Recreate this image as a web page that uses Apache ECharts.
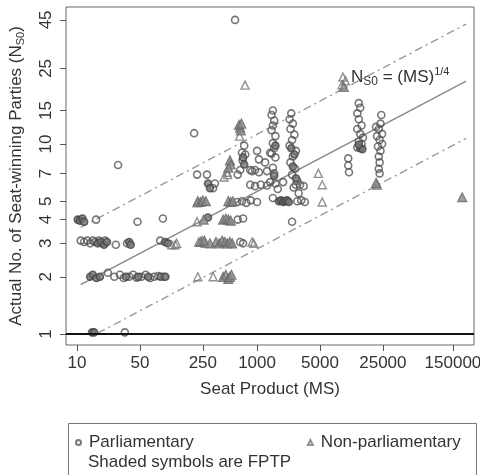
<!DOCTYPE html>
<html>
<head>
<meta charset="utf-8">
<script src="https://cdn.jsdelivr.net/npm/echarts@6/dist/echarts.min.js"></script>
<style>
  html, body { margin: 0; padding: 0; background: #fff; }
  #chart { width: 480px; height: 475px; }
</style>
</head>
<body>
<div id="chart"></div>
<script>
// tick positions (log axes)
const ticksX = [10, 50, 250, 1000, 5000, 25000, 150000];
const ticksY = [1, 2, 3, 4, 5, 7, 10, 15, 25, 45];

// [seat product, effective no. of seat-winning parties]
const parlOpen = [
  [16.3,4.0],[47,3.9],[90,4.05],
  [11,3.1],[12,3.05],[13,3.1],[14,3.0],[15,3.1],[16,3.05],[17.5,3.1],[19,3.0],[20.5,3.1],[27,2.95],[36,3.0],[84,3.1],
  [22,2.1],[26,2.0],[30,2.05],[33,1.97],[38,2.0],[42,2.05],[46,1.98],[52,2.0],[58,2.05],[65,1.97],[72,2.0],[80,2.02],[92,2.0],
  [34,1.02],
  [28.6,7.75],[200,11.4],[570,45],
  [216,6.9],[278,6.9],[340,6.2],[325,5.85],[610,6.9],[880,7.2],[1050,7.1],[1290,7.2],
  [840,6.1],[950,6.0],[1100,6.1],[1290,6.05],[1400,6.3],[1600,6.2],[1950,6.3],
  [600,4.95],[680,5.0],[760,4.9],[850,5.05],[1000,4.95],
  [610,4.0],[700,4.05],[650,3.05],[700,3.0],
  [680,9.0],[690,8.2],[650,7.3],[840,7.3],[950,7.3],[1230,8.0],[1400,9.0],[1000,9.2],[1050,8.3],[720,9.8],[740,8.8],
  [1500,15.0],[1450,14.2],[1550,13.3],[1500,12.5],[1450,11.8],[1600,11.0],[1500,10.1],[1550,9.5],[1450,8.9],[1600,8.5],[1500,7.5],[1550,7.0],[1700,5.8],[1500,5.2],
  [2400,14.5],[2300,13.5],[2500,12.8],[2350,12.0],[2600,11.2],[2450,10.5],[2300,9.8],[2700,9.2],[2500,8.6],[2350,8.0],[2650,7.4],[2450,6.9],[2800,6.4],[2550,5.9],[2900,5.5],
  [2700,6.1],[3000,6.1],[3300,6.0],[2800,5.0],[3100,5.05],[3400,4.95],[2450,3.9],
  [13500,16.4],[14000,15.5],[13000,14.5],[13500,13.5],[14500,12.5],[13000,12.0],[14000,11.3],[15000,10.8],[13500,10.3],[14500,10.0],[13000,9.6],
  [24000,14.2],[21000,12.3],[23500,12.8],[22500,12.0],[24500,11.3],[21500,11.0],[23000,10.5],[24500,10.0],[22000,9.7],[23500,9.2],[22500,8.6],[23000,8.0],[22500,7.4],[23000,7.0],
  [10300,8.4],[10300,7.7],[10500,7.1]
];
const parlShaded = [
  [10.2,4.0],[10.8,3.95],[11.5,4.05],[12,3.9],
  [17,3.0],[18.5,3.05],[20,2.95],[21.5,3.05],[38,3.05],[39.5,2.95],[95,3.05],[102,3.0],
  [14,2.0],[15,2.05],[16.5,1.97],[18,2.0],[35,2.0],[48,2.0],[62,2.0],[85,2.0],[96,2.0],
  [14.7,1.02],[15.5,1.02],
  [285,4.1],[285,6.2],[300,5.85],
  [1750,5.0],[1850,5.05],[1950,4.95],[2050,5.0],[2150,5.05],[2250,4.95],
  [2400,9.5],[2600,8.8],[2500,7.6],[2700,6.6],[1550,6.8],[1600,9.8],
  [14000,9.5],[14800,9.4],[13500,9.9],
  [700,8.5],[720,7.8]
];
const nonParlOpen = [
  [113,2.95],[123,2.95],[128,3.0],
  [216,4.9],[216,3.9],[225,3.05],[245,3.1],[265,3.0],[220,2.0],[325,2.0],
  [736,20.4],[640,11.0],[465,7.1],[430,6.7],[470,6.9],
  [880,3.05],[920,3.0],
  [4800,7.0],[5300,6.1],[5300,4.95],
  [9000,22.5],[9600,21.5],[8800,20.5]
];
const nonParlShaded = [
  [648,12.2],[660,11.8],[630,12.6],[670,12.8],
  [500,8.2],[510,7.8],[480,7.5],
  [220,5.0],[235,4.95],[250,5.05],[270,5.0],[480,5.0],[510,4.95],[540,5.0],
  [255,4.0],[420,4.0],[450,4.05],[480,4.0],[510,3.95],
  [235,3.05],[260,3.1],[300,3.0],[350,3.05],[380,3.0],[410,3.1],[440,3.05],[470,3.0],[500,3.05],[530,3.0],
  [420,2.0],[450,2.05],[480,1.95],[500,2.0],[520,2.05],
  [21500,6.1],[21000,6.25],
  [9200,20.0],
  [190000,5.25]
];

// N = MS^(1/4), and the same times 2 and times 1/2 (endpoints)
const fitLine = [[11, 1.82], [210000, 21.4]];
const upperLine = [[11, 3.64], [210000, 42.8]];
const lowerLine = [[17, 1.01], [210000, 10.7]];

const FONT = '"Liberation Sans", Arial, sans-serif';
const textCol = '#333';

const chart = echarts.init(document.getElementById('chart'));

const dashDot = [8, 4, 2, 4];

chart.setOption({
  animation: false,
  textStyle: { fontFamily: FONT },
  grid: { left: 66, right: 6, top: 7, bottom: 130, show: true, borderColor: '#666', borderWidth: 1, outerBoundsMode: 'none' },
  xAxis: {
    type: 'log', logBase: 10, min: 7.55, max: 257000,
    name: 'Seat Product (MS)', nameLocation: 'middle', nameGap: 36,
    nameTextStyle: { fontSize: 17, color: textCol, fontFamily: FONT },
    axisLine: { show: false },
    axisTick: { show: true, length: 6, lineStyle: { color: '#555' }, customValues: ticksX },
    axisLabel: { fontSize: 17, color: textCol, margin: 10, customValues: ticksX, formatter: v => String(Math.round(v)) },
    splitLine: { show: false }
  },
  yAxis: {
    type: 'log', logBase: 10, min: 0.875, max: 52.6,
    name: 'Actual No. of Seat-winning Parties (N{s|S0})', nameLocation: 'middle', nameGap: 40, nameRotate: 90,
    nameTextStyle: {
      fontSize: 17, color: textCol, fontFamily: FONT, lineHeight: 20,
      rich: { s: { fontSize: 11, color: textCol, fontFamily: FONT, verticalAlign: 'bottom' } }
    },
    axisLine: { show: false },
    axisTick: { show: true, length: 6, lineStyle: { color: '#555' }, customValues: ticksY },
    axisLabel: { fontSize: 17, color: textCol, rotate: 90, margin: 11, customValues: ticksY, formatter: v => String(Math.round(v)) },
    splitLine: { show: false }
  },
  legend: {
    left: 70, top: 429, itemGap: 113, itemWidth: 5, itemHeight: 5,
    textStyle: { fontSize: 17, color: textCol, fontFamily: FONT, padding: [0, 0, 0, 3] },
    data: [
      { name: 'Parliamentary', icon: 'circle' },
      { name: 'Non-parliamentary', icon: 'triangle' }
    ]
  },
  graphic: [
    { type: 'rect', left: 66, top: 421, shape: { width: 408, height: 80 }, style: { fill: 'none', stroke: '#777', lineWidth: 1 }, silent: true },
    { type: 'text', left: 88, top: 454, style: { text: 'Shaded symbols are FPTP', fontSize: 17, fill: textCol, fontFamily: FONT } },
    {
      type: 'text', left: 351, top: 66,
      style: {
        text: '{b|N}{s|S0}{b| = (MS)}{p|1/4}',
        rich: {
          b: { fontSize: 17, fill: textCol, fontFamily: FONT, lineHeight: 22 },
          s: { fontSize: 12, fill: textCol, fontFamily: FONT, verticalAlign: 'bottom' },
          p: { fontSize: 11, fill: textCol, fontFamily: FONT, verticalAlign: 'top' }
        }
      }
    }
  ],
  series: [
    {
      name: 'fit', type: 'line', data: fitLine, showSymbol: false, silent: true,
      lineStyle: { color: '#888', width: 1.4 }, z: 1
    },
    {
      name: 'upper', type: 'line', data: upperLine, showSymbol: false, silent: true,
      lineStyle: { color: '#999', width: 1.4, type: dashDot }, z: 1
    },
    {
      name: 'lower', type: 'line', data: lowerLine, showSymbol: false, silent: true,
      lineStyle: { color: '#999', width: 1.4, type: dashDot }, z: 1
    },
    {
      name: 'Parliamentary', type: 'scatter', data: parlOpen, symbol: 'circle', symbolSize: 7,
      itemStyle: { color: 'rgba(255,255,255,0)', borderColor: '#555', borderWidth: 1.6 },
      markLine: {
        silent: true, symbol: 'none', label: { show: false },
        lineStyle: { color: '#111', width: 2, type: 'solid' },
        data: [{ yAxis: 1 }]
      }
    },
    {
      name: 'Parliamentary FPTP', type: 'scatter', data: parlShaded, symbol: 'circle', symbolSize: 7,
      itemStyle: { color: '#777', borderColor: '#444', borderWidth: 1.6 }
    },
    {
      name: 'Non-parliamentary', type: 'scatter', data: nonParlOpen, symbol: 'triangle', symbolSize: 8,
      itemStyle: { color: 'rgba(255,255,255,0)', borderColor: '#777', borderWidth: 1.4 }
    },
    {
      name: 'Non-parliamentary FPTP', type: 'scatter', data: nonParlShaded, symbol: 'triangle', symbolSize: 9,
      itemStyle: { color: '#888', borderColor: '#666', borderWidth: 1.2 }
    }
  ]
});
</script>
</body>
</html>
